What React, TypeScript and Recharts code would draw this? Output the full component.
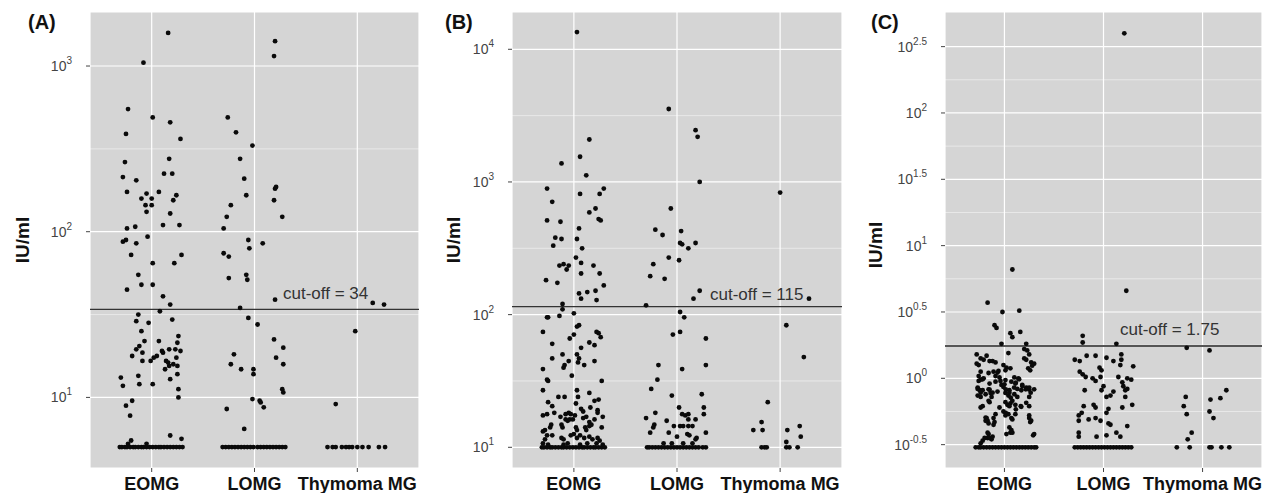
import React from "react"
import { ScatterChart, Scatter, XAxis, YAxis, CartesianGrid, ReferenceLine } from "recharts"

const FONT = '"Liberation Sans", Arial, Helvetica, sans-serif'

const groups = ["EOMG", "LOMG", "Thymoma MG"]

// points are [jitter offset, log10(IU/ml)]
const aEomg = [
  [0.16, 3.2], [-0.08, 3.02], [-0.23, 2.74], [0.01, 2.69], [0.18, 2.66], [-0.25, 2.59], [0.28, 2.56],
  [-0.26, 2.42], [0.17, 2.44], [-0.28, 2.33], [-0.15, 2.31], [0.12, 2.35], [0.2, 2.35], [-0.24, 2.24],
  [-0.05, 2.23], [0.07, 2.24], [0.24, 2.22], [-0.1, 2.2], [0.0, 2.2], [-0.06, 2.16], [0.0, 2.16],
  [0.21, 2.19], [-0.05, 2.12], [0.18, 2.11], [-0.24, 2.02], [-0.16, 2.03], [0.11, 2.04], [0.27, 2.04],
  [-0.28, 1.94], [-0.25, 1.95], [-0.15, 1.93], [-0.04, 1.97], [-0.2, 1.86], [0.01, 1.81], [0.22, 1.81],
  [0.29, 1.86], [-0.13, 1.74], [-0.1, 1.68], [0.01, 1.68], [-0.24, 1.65], [0.11, 1.61], [0.18, 1.56],
  [0.08, 1.52], [-0.13, 1.5], [-0.15, 1.46], [-0.03, 1.45], [0.2, 1.47], [-0.1, 1.4], [-0.07, 1.34],
  [-0.15, 1.29], [-0.19, 1.25], [-0.12, 1.31], [-0.09, 1.27], [0.07, 1.34], [0.1, 1.28], [0.11, 1.27],
  [0.02, 1.24], [0.05, 1.25], [0.17, 1.29], [0.23, 1.29], [0.28, 1.28], [0.25, 1.33], [0.26, 1.37],
  [-0.09, 1.22], [-0.01, 1.22], [0.14, 1.22], [0.16, 1.21], [0.24, 1.24], [0.21, 1.2], [0.13, 1.17],
  [0.17, 1.19], [0.25, 1.19], [-0.13, 1.13], [0.18, 1.11], [0.25, 1.14], [-0.12, 1.08], [-0.3, 1.12],
  [-0.28, 1.07], [0.01, 1.08], [0.26, 1.05], [0.26, 1.0], [-0.19, 0.98], [-0.25, 0.95], [-0.21, 0.89],
  [0.18, 0.77], [0.29, 0.75], [-0.2, 0.74], [-0.23, 0.72], [-0.05, 0.72],
]
const aLomg = [
  [0.2, 3.15], [0.19, 3.06], [-0.26, 2.69], [-0.18, 2.6], [-0.02, 2.52], [-0.14, 2.44], [-0.1, 2.32],
  [-0.08, 2.22], [0.2, 2.26], [0.21, 2.27], [0.19, 2.19], [-0.23, 2.16], [-0.27, 2.09], [0.27, 2.09],
  [-0.3, 2.02], [-0.06, 1.95], [-0.05, 1.9], [0.08, 1.93], [-0.3, 1.87], [-0.25, 1.85], [-0.25, 1.72],
  [-0.08, 1.74], [-0.07, 1.71], [0.2, 1.59], [-0.14, 1.54], [-0.06, 1.48], [0.03, 1.44], [0.19, 1.35],
  [0.28, 1.3], [-0.2, 1.26], [-0.23, 1.2], [-0.13, 1.17], [0.21, 1.24], [0.28, 1.2], [-0.01, 1.17],
  [-0.01, 1.14], [0.27, 1.05], [0.28, 1.03], [-0.02, 0.99], [0.05, 0.98], [0.06, 0.97], [0.09, 0.94],
  [-0.27, 0.93], [-0.1, 0.81],
]
const aThym = [[0.15, 1.57], [0.26, 1.56], [-0.02, 1.4], [-0.21, 0.96]]
const aFloorLog = 0.7
const aFloors = [
  [-0.31, -0.29, -0.26, -0.24, -0.21, -0.18, -0.16, -0.13, -0.1, -0.08, -0.05, -0.02, 0.01, 0.04, 0.07, 0.09, 0.12, 0.15, 0.18, 0.21, 0.24, 0.27, 0.3],
  [-0.31, -0.28, -0.25, -0.22, -0.19, -0.16, -0.13, -0.1, -0.07, -0.04, -0.01, 0.03, 0.06, 0.09, 0.12, 0.15, 0.18, 0.21, 0.24, 0.27, 0.3],
  [-0.29, -0.24, -0.21, -0.15, -0.11, -0.08, -0.05, 0.0, 0.05, 0.11, 0.21, 0.27],
]

const bEomg = [
  [0.03, 4.13], [0.15, 3.32], [0.06, 3.19], [-0.12, 3.14], [0.12, 3.05], [-0.26, 2.95], [0.29, 2.95],
  [0.06, 2.91], [0.25, 2.91], [-0.21, 2.85], [0.15, 2.77], [0.21, 2.8], [-0.26, 2.71], [-0.13, 2.7],
  [0.24, 2.72], [0.26, 2.71], [0.05, 2.65], [-0.18, 2.58], [-0.12, 2.57], [-0.2, 2.52], [0.03, 2.57],
  [0.08, 2.5], [0.02, 2.43], [-0.14, 2.37], [-0.1, 2.38], [-0.05, 2.37], [-0.07, 2.34], [0.07, 2.39],
  [0.19, 2.37], [0.07, 2.31], [0.25, 2.31], [-0.27, 2.26], [-0.16, 2.24], [0.29, 2.22], [0.05, 2.16],
  [0.13, 2.17], [0.21, 2.18], [0.07, 2.12], [0.22, 2.11], [-0.11, 2.08], [-0.11, 2.04], [-0.26, 1.98],
  [-0.25, 1.98], [-0.14, 1.99], [0.0, 2.01],
  [0.05, 1.92], [0.03, 1.91], [-0.3, 1.87], [0.0, 1.85], [-0.04, 1.82], [0.22, 1.87], [0.24, 1.86],
  [0.26, 1.83], [-0.21, 1.78], [0.15, 1.79], [0.2, 1.77], [0.07, 1.75], [-0.11, 1.7], [0.03, 1.7],
  [0.05, 1.67], [-0.21, 1.67], [-0.05, 1.65], [-0.09, 1.62], [-0.1, 1.6], [0.04, 1.64], [0.1, 1.62],
  [0.2, 1.65], [-0.3, 1.59], [-0.02, 1.54], [-0.26, 1.51], [-0.25, 1.5], [0.27, 1.5], [-0.3, 1.43],
  [0.03, 1.43], [0.15, 1.41], [-0.15, 1.38], [-0.09, 1.38], [0.04, 1.38], [0.24, 1.36], [0.2, 1.35],
  [-0.25, 1.34], [-0.21, 1.31], [0.02, 1.33], [0.07, 1.29], [0.09, 1.27], [0.16, 1.3], [0.23, 1.28],
  [0.23, 1.26], [-0.3, 1.24], [-0.26, 1.25], [-0.19, 1.26], [-0.13, 1.23], [-0.08, 1.25], [-0.05, 1.26],
  [-0.03, 1.25], [0.01, 1.24], [0.28, 1.23], [-0.08, 1.21], [-0.06, 1.2], [-0.04, 1.21], [-0.01, 1.21],
  [0.09, 1.22], [0.12, 1.23], [0.2, 1.21], [0.15, 1.19], [-0.22, 1.17], [-0.23, 1.15], [-0.28, 1.13],
  [-0.3, 1.12], [-0.12, 1.17], [-0.11, 1.15], [0.02, 1.15], [0.03, 1.13], [0.11, 1.15], [0.12, 1.13],
  [0.15, 1.16], [0.17, 1.17], [0.27, 1.15], [-0.26, 1.09], [-0.28, 1.06], [-0.21, 1.09], [-0.12, 1.07],
  [-0.1, 1.06], [-0.03, 1.09], [0.0, 1.1], [0.03, 1.07], [0.06, 1.09], [0.1, 1.07], [0.15, 1.08],
  [0.18, 1.06], [0.23, 1.07], [0.25, 1.05], [-0.3, 1.03], [-0.25, 1.02], [-0.1, 1.02], [-0.06, 1.03],
  [0.06, 1.02], [0.13, 1.03], [0.22, 1.03], [0.28, 1.02],
]
const bLomg = [
  [-0.08, 3.55], [0.18, 3.39], [0.2, 3.34], [0.22, 3.0], [-0.06, 2.8], [-0.21, 2.64], [-0.14, 2.6],
  [0.04, 2.63], [0.03, 2.54], [0.05, 2.53], [0.11, 2.5], [0.18, 2.54], [-0.23, 2.38], [-0.08, 2.43],
  [0.02, 2.41], [-0.26, 2.29], [-0.12, 2.27], [0.22, 2.18], [0.16, 2.12], [-0.3, 2.07], [0.03, 2.02],
  [0.07, 1.98], [-0.04, 1.85], [0.03, 1.87], [0.28, 1.82], [-0.18, 1.62], [0.05, 1.59], [0.28, 1.62],
  [-0.19, 1.51], [-0.25, 1.44], [-0.05, 1.39], [0.24, 1.4], [0.02, 1.3], [0.26, 1.3], [-0.21, 1.26],
  [0.05, 1.25], [0.08, 1.24], [0.11, 1.25], [0.26, 1.25], [-0.3, 1.22], [0.18, 1.21], [0.11, 1.21],
  [-0.1, 1.2], [-0.22, 1.17], [-0.23, 1.15], [-0.26, 1.11], [-0.03, 1.16], [0.03, 1.16], [0.06, 1.16],
  [0.11, 1.16], [0.15, 1.16], [-0.08, 1.11], [0.1, 1.1], [0.12, 1.09], [0.28, 1.11], [0.0, 1.08],
  [0.19, 1.07], [0.18, 1.06], [-0.05, 1.03], [0.06, 1.03], [0.15, 1.03], [-0.13, 1.03],
]
const bThym = [
  [0.0, 2.92], [0.06, 1.92], [0.28, 2.12], [0.23, 1.68], [-0.12, 1.34], [-0.18, 1.19], [-0.17, 1.13],
  [-0.26, 1.13], [0.07, 1.13], [0.19, 1.16], [0.2, 1.08], [0.06, 1.04],
]
const bFloorLog = 1.0
const bFloors = [
  [-0.31, -0.29, -0.26, -0.23, -0.21, -0.18, -0.15, -0.12, -0.1, -0.07, -0.04, -0.01, 0.02, 0.05, 0.08, 0.1, 0.13, 0.16, 0.19, 0.21, 0.24, 0.27, 0.3],
  [-0.29, -0.27, -0.24, -0.21, -0.18, -0.15, -0.12, -0.09, -0.06, -0.03, 0.0, 0.03, 0.06, 0.09, 0.12, 0.15, 0.18, 0.21, 0.25, 0.28],
  [-0.18, -0.15, -0.13, 0.06, 0.09, 0.17],
]

const cEomg = [
  [0.08, 0.82], [-0.17, 0.57], [-0.02, 0.5], [0.15, 0.51], [-0.1, 0.4], [-0.08, 0.38], [0.06, 0.34],
  [0.08, 0.31], [0.16, 0.35], [-0.03, 0.26], [0.22, 0.26], [0.2, 0.22], [0.23, 0.21], [0.04, 0.19],
  [-0.28, 0.18], [-0.24, 0.15], [-0.21, 0.14], [-0.18, 0.17], [-0.15, 0.13], [-0.28, 0.11], [-0.26, 0.1],
  [0.2, 0.15], [0.22, 0.14], [0.25, 0.18], [-0.12, 0.13], [-0.09, 0.12], [-0.01, 0.1], [0.02, 0.08],
  [0.06, 0.075], [0.01, 0.06], [0.27, 0.12], [0.3, 0.11], [0.28, 0.095], [0.24, 0.075], [0.26, 0.06],
  [-0.24, 0.05], [-0.16, 0.04], [-0.11, 0.05], [-0.06, 0.055], [-0.21, 0.0], [-0.24, -0.01], [-0.26, -0.02],
  [-0.05, 0.007], [0.01, -0.013], [0.1, 0.007], [0.14, 0.0], [-0.09, -0.025], [0.07, -0.025], [0.11, -0.04],
  [-0.15, -0.04], [-0.03, -0.05], [-0.01, -0.065], [0.18, -0.05], [0.22, -0.07], [0.25, -0.085],
  [-0.27, -0.08], [-0.25, -0.09], [-0.22, -0.09], [-0.15, -0.085], [0.13, -0.08], [0.17, -0.09],
  [0.05, -0.09], [-0.27, -0.13], [-0.24, -0.14], [-0.14, -0.11], [-0.13, -0.14], [-0.07, -0.1],
  [0.01, -0.11], [0.04, -0.13], [0.1, -0.12], [0.13, -0.14], [0.25, -0.14], [0.22, -0.185],
  [-0.15, -0.18], [0.01, -0.18], [0.03, -0.2], [0.06, -0.19], [0.11, -0.2], [0.17, -0.215],
  [-0.24, -0.22], [-0.05, -0.22], [0.25, -0.21], [-0.01, -0.25], [0.01, -0.28], [0.04, -0.27],
  [0.07, -0.3], [0.11, -0.27], [-0.18, -0.3], [-0.19, -0.32], [-0.11, -0.3], [0.25, -0.3], [0.26, -0.33],
  [-0.16, -0.34], [-0.11, -0.35], [0.07, -0.39], [0.06, -0.41], [0.02, -0.42], [0.29, -0.43],
  [-0.16, -0.42], [-0.17, -0.45], [-0.13, -0.46], [-0.22, -0.47], [-0.24, -0.49],
  [-0.26, 0.017], [-0.22, -0.007], [-0.27, -0.07], [-0.24, -0.108], [-0.19, -0.12], [-0.16, -0.083],
  [-0.12, -0.108], [-0.09, 0.017], [-0.07, 0.043], [-0.04, -0.02], [0.0, -0.045], [0.013, -0.083],
  [0.05, -0.108], [0.064, -0.146], [0.08, -0.17], [0.098, -0.07], [0.115, -0.033], [0.148, -0.007],
  [0.18, -0.058], [0.215, -0.083], [0.25, -0.07], [0.265, -0.108], [0.3, -0.083], [0.05, -0.21],
  [0.115, -0.234], [0.165, -0.21], [-0.22, -0.21], [-0.16, -0.17], [-0.19, -0.296], [-0.17, -0.32],
  [-0.1, -0.33], [-0.09, -0.27], [0.013, -0.26], [0.08, -0.31], [0.05, -0.37], [0.08, -0.41],
  [0.25, -0.28], [0.27, -0.32], [0.3, -0.42], [-0.2, -0.45], [-0.15, -0.45], [-0.12, -0.44], [-0.17, -0.41],
]
const cLomg = [
  [0.21, 2.6], [0.23, 0.66], [-0.21, 0.32], [-0.21, 0.27], [0.13, 0.26], [-0.29, 0.14], [-0.24, 0.13],
  [-0.17, 0.17], [-0.08, 0.17], [0.03, 0.155], [0.1, 0.13], [0.18, 0.18], [0.18, 0.14], [0.17, 0.1],
  [0.3, 0.09], [-0.24, 0.05], [-0.21, 0.03], [-0.18, 0.01], [-0.11, 0.0], [-0.08, -0.02], [-0.04, 0.08],
  [-0.02, 0.06], [-0.03, 0.01], [0.15, 0.01], [0.24, 0.0], [0.28, -0.01], [0.19, -0.03], [0.2, -0.06],
  [0.24, -0.08], [0.22, -0.09], [0.0, -0.06], [-0.02, -0.09], [-0.19, -0.09], [0.1, -0.1], [0.07, -0.13],
  [0.03, -0.14], [0.22, -0.14], [0.29, -0.2], [-0.1, -0.2], [-0.08, -0.22], [-0.2, -0.21], [0.19, -0.22],
  [0.05, -0.23], [0.03, -0.26], [-0.22, -0.26], [-0.25, -0.28], [-0.15, -0.31], [-0.08, -0.3],
  [-0.03, -0.32], [-0.25, -0.32], [0.05, -0.34], [0.07, -0.35], [0.24, -0.36], [-0.25, -0.41],
  [-0.25, -0.44], [-0.07, -0.44], [0.03, -0.43], [0.13, -0.41], [0.17, -0.44],
]
const cThym = [
  [-0.16, 0.23], [0.07, 0.21], [0.24, -0.09], [0.18, -0.15], [-0.17, -0.14], [-0.19, -0.21],
  [0.08, -0.16], [-0.16, -0.27], [0.07, -0.25], [0.11, -0.3], [-0.11, -0.41], [-0.15, -0.46],
]
const cFloorLog = -0.52
const cFloors = [
  [-0.29, -0.26, -0.24, -0.21, -0.18, -0.15, -0.12, -0.09, -0.06, -0.03, 0.0, 0.03, 0.06, 0.09, 0.12, 0.15, 0.18, 0.21, 0.24, 0.27, 0.3, 0.32],
  [-0.29, -0.26, -0.23, -0.2, -0.17, -0.14, -0.11, -0.08, -0.05, -0.02, 0.01, 0.04, 0.07, 0.1, 0.13, 0.16, 0.19, 0.22, 0.25, 0.28],
  [-0.26, -0.13, 0.07, 0.09, 0.19, 0.27],
]

const cutoffA = 34
const cutoffB = 115
const cutoffC = 1.75

function toPoints(sets: number[][][], floors: number[][], floorLog: number) {
  const out: { x: number; y: number }[] = []
  sets.forEach((pts, gi) => {
    floors[gi].forEach((o) => out.push({ x: gi + o, y: floorLog }))
    pts.forEach(([o, v]) => out.push({ x: gi + o, y: v }))
  })
  return out
}

const Dot = (props: any) => <circle cx={props.cx} cy={props.cy} r={2.4} fill="#0a0a0a" />

const XTick = ({ x, y, payload }: any) => (
  <text x={x} y={y + 16} textAnchor="middle" fontFamily={FONT} fontSize={18} fontWeight="bold" fill="#111">
    {groups[payload.value]}
  </text>
)

const YTick = ({ x, y, payload }: any) => (
  <text x={x} y={y + 5} textAnchor="end" fontFamily={FONT} fontSize={14} fill="#444">
    10<tspan dy={-7} fontSize={10}>{payload.value}</tspan>
  </text>
)

interface PanelProps {
  left: number
  width: number
  yWidth: number
  right: number
  domain: [number, number]
  ticks: number[]
  minor: number[]
  cutoff: number
  labelDx: number
  labelDy: number
  lineColor: string
  lineWidth: number
  data: { x: number; y: number }[]
}

function Panel(p: PanelProps) {
  const cut = Math.log10(p.cutoff)
  return (
    <div style={{ position: "absolute", left: p.left, top: 0 }}>
      <ScatterChart width={p.width} height={493} margin={{ top: 12, right: p.right, bottom: 0, left: 0 }}>
        <CartesianGrid fill="#d5d5d5" stroke="#ffffff" strokeWidth={1.2} />
        <XAxis
          type="number"
          dataKey="x"
          domain={[-0.6, 2.6]}
          ticks={[0, 1, 2]}
          interval={0}
          allowDataOverflow
          axisLine={false}
          tickSize={4}
          tickMargin={2}
          tickLine={{ stroke: "#444" }}
          tick={<XTick />}
          height={25}
        />
        <YAxis
          type="number"
          dataKey="y"
          domain={p.domain}
          ticks={p.ticks}
          interval={0}
          allowDataOverflow
          axisLine={false}
          tickSize={4}
          tickMargin={14}
          tickLine={{ stroke: "#444" }}
          tick={<YTick />}
          width={p.yWidth}
        />
        {p.minor.map((m) => (
          <ReferenceLine key={m} y={m} stroke="#ffffff" strokeWidth={0.6} strokeOpacity={0.8} />
        ))}
        <ReferenceLine
          y={cut}
          stroke={p.lineColor}
          strokeWidth={p.lineWidth}
          label={(lp: any) => (
            <text
              x={lp.viewBox.x + p.labelDx}
              y={lp.viewBox.y - p.labelDy}
              fontFamily={FONT}
              fontSize={17}
              fill="#333"
            >
              {`cut-off = ${p.cutoff}`}
            </text>
          )}
        />
        <Scatter data={p.data} shape={<Dot />} isAnimationActive={false} />
      </ScatterChart>
    </div>
  )
}

export default function App() {
  const dataA = toPoints([aEomg, aLomg, aThym], aFloors, aFloorLog)
  const dataB = toPoints([bEomg, bLomg, bThym], bFloors, bFloorLog)
  const dataC = toPoints([cEomg, cLomg, cThym], cFloors, cFloorLog)

  const titles = [
    { tag: "(A)", tx: 28, cx: 22, cy: 240 },
    { tag: "(B)", tx: 445, cx: 453, cy: 240 },
    { tag: "(C)", tx: 871, cx: 875, cy: 245 },
  ]

  return (
    <div style={{ position: "absolute", left: 0, top: 0, width: 1266, height: 493, background: "#fff", fontFamily: FONT }}>
      <Panel left={0} width={420} yWidth={90} right={1} domain={[0.574, 3.326]} ticks={[1, 2, 3]} minor={[1.5, 2.5]}
        cutoff={cutoffA} labelDx={193} labelDy={10} lineColor="#333" lineWidth={1.3} data={dataA} />
      <Panel left={420} width={424} yWidth={92} right={2} domain={[0.844, 4.281]} ticks={[1, 2, 3, 4]} minor={[1.5, 2.5, 3.5]}
        cutoff={cutoffB} labelDx={198} labelDy={7} lineColor="#333" lineWidth={1.3} data={dataB} />
      <Panel left={840} width={426} yWidth={105} right={4} domain={[-0.676, 2.761]} ticks={[-0.5, 0, 0.5, 1, 1.5, 2, 2.5]}
        minor={[-0.25, 0.25, 0.75, 1.25, 1.75, 2.25]} cutoff={cutoffC} labelDx={175} labelDy={11} lineColor="#555"
        lineWidth={2} data={dataC} />
      <svg width={1266} height={493} style={{ position: "absolute", left: 0, top: 0, pointerEvents: "none" }}>
        {titles.map((t) => (
          <g key={t.tag}>
            <text x={t.tx} y={29} fontFamily={FONT} fontSize={20} fontWeight="bold" fill="#111">{t.tag}</text>
            <text
              x={t.cx}
              y={t.cy}
              transform={`rotate(-90 ${t.cx} ${t.cy})`}
              textAnchor="middle"
              dominantBaseline="central"
              fontFamily={FONT}
              fontSize={19}
              fontWeight="bold"
              fill="#111"
            >
              IU/ml
            </text>
          </g>
        ))}
      </svg>
    </div>
  )
}
